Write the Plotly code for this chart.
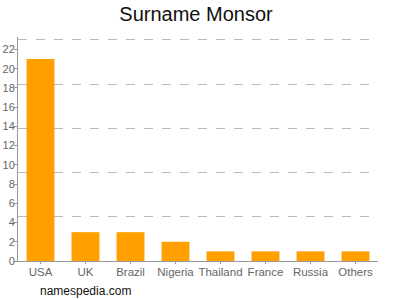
import plotly.graph_objects as go

countries = ["USA", "UK", "Brazil", "Nigeria", "Thailand", "France", "Russia", "Others"]
counts = [21, 3, 3, 2, 1, 1, 1, 1]
y_ticks = list(range(0, 23, 2))
grid_vals = [4.6, 9.2, 13.8, 18.4, 23]

fig = go.Figure(go.Bar(x=countries, y=counts, marker=dict(color="#FFA000", line=dict(width=0))))

fig.update_layout(
    width=400, height=300,
    margin=dict(l=18, r=22, t=37, b=39, autoexpand=False),
    paper_bgcolor="white", plot_bgcolor="white",
    bargap=0.38,
    showlegend=False,
    font=dict(family="Liberation Sans, Arial, sans-serif", color="#666666", size=11),
    title=dict(text="Surname Monsor", x=0.49, xanchor="center", y=0.953, yanchor="middle",
               font=dict(size=20, color="#111111", family="Liberation Sans, Arial, sans-serif")),
    annotations=[dict(text="namespedia.com", xref="paper", yref="paper", x=0.055, y=0,
                      xanchor="left", yanchor="middle", yshift=-30, showarrow=False,
                      font=dict(size=12, color="#111111"))],
)
fig.update_xaxes(showline=True, linecolor="#999999", linewidth=1, ticks="outside", ticklen=2,
                 tickcolor="#999999", showgrid=False, automargin=False, ticklabelstandoff=-2,
                 tickfont=dict(size=11.5, color="#666666"))
fig.update_yaxes(range=[0, 23.3], tickvals=y_ticks, showline=True, linecolor="#999999", linewidth=1,
                 ticks="outside", ticklen=3, tickcolor="#999999", showgrid=False, zeroline=False,
                 automargin=False,
                 tickfont=dict(size=11, color="#666666"), ticklabelstandoff=-3,
                 minor=dict(tickvals=grid_vals, showgrid=True, gridcolor="#bbbbbb", griddash="dash",
                            gridwidth=1, ticks=""))

fig.write_html("out.html")
